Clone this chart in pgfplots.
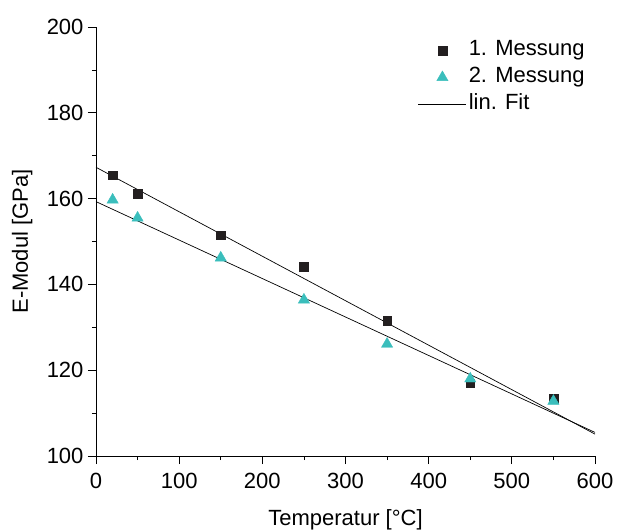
\documentclass[border=0pt]{standalone}
\usepackage{pgfplots}
\pgfplotsset{compat=1.18}
\usepackage{fontspec}
\setmainfont{Liberation Sans}
\definecolor{sq}{RGB}{35,31,32}
\definecolor{tri}{RGB}{58,190,188}
\begin{document}
\begin{tikzpicture}[font=\fontsize{22}{26}\selectfont]
\begin{axis}[
  scale only axis,
  width=499pt, height=429pt,
  xmin=0, xmax=600, ymin=100, ymax=200,
  axis x line=bottom, axis y line=left,
  axis line style={-, line width=0.8pt},
  xtick={0,100,...,600}, ytick={100,120,...,200},
  minor x tick num=1, minor y tick num=1,
  tick align=outside,
  major tick length=8pt, minor tick length=4pt,
  every tick/.style={line width=0.8pt, black},
  xticklabel style={yshift=-6pt},
  yticklabel style={xshift=-1pt},
  /pgf/number format/assume math mode=true,
  xlabel={Temperatur [°C]},
  ylabel={E-Modul [GPa]},
  xlabel style={at={(axis description cs:0.5,-0.163)}, anchor=base, inner sep=0pt},
  ylabel style={at={(axis description cs:-0.148,0.5)}, anchor=center, inner sep=0pt},
  legend style={draw=none, fill=none, at={(axis description cs:0.645,0.975)}, anchor=north west,
    row sep=2pt, inner sep=0pt, nodes={inner sep=2pt, text height=16pt, text depth=5pt}},
  legend cell align=left,
  legend image code/.code={\draw[mark repeat=2,mark phase=2,#1] plot coordinates {(0pt,0pt)(24pt,0pt)(48pt,0pt)};},
  clip=false,
]
\addplot[only marks, mark=square*, mark size=4.3pt, color=sq] coordinates {
 (20,165.5) (50,161.1) (150,151.5) (250,144.1) (350,131.5) (450,117.0) (550,113.3)};
\addlegendentry{1. Messung}
\addplot[only marks, mark=triangle*, mark size=6.5pt, color=tri] coordinates {
 (20,159.7) (50,155.5) (150,146.2) (250,136.4) (350,126.1) (450,118.0) (550,112.8)};
\addlegendentry{2. Messung}
\addplot[black, line width=0.7pt] coordinates {(0,167.3) (600,105.1)};
\addlegendentry{lin. Fit}
\addplot[black, line width=0.7pt, forget plot] coordinates {(0,159.3) (600,105.5)};
\end{axis}
\path (current axis.south west) ++(-96pt,-75pt) rectangle ++(644pt,531pt);
\end{tikzpicture}
\end{document}
